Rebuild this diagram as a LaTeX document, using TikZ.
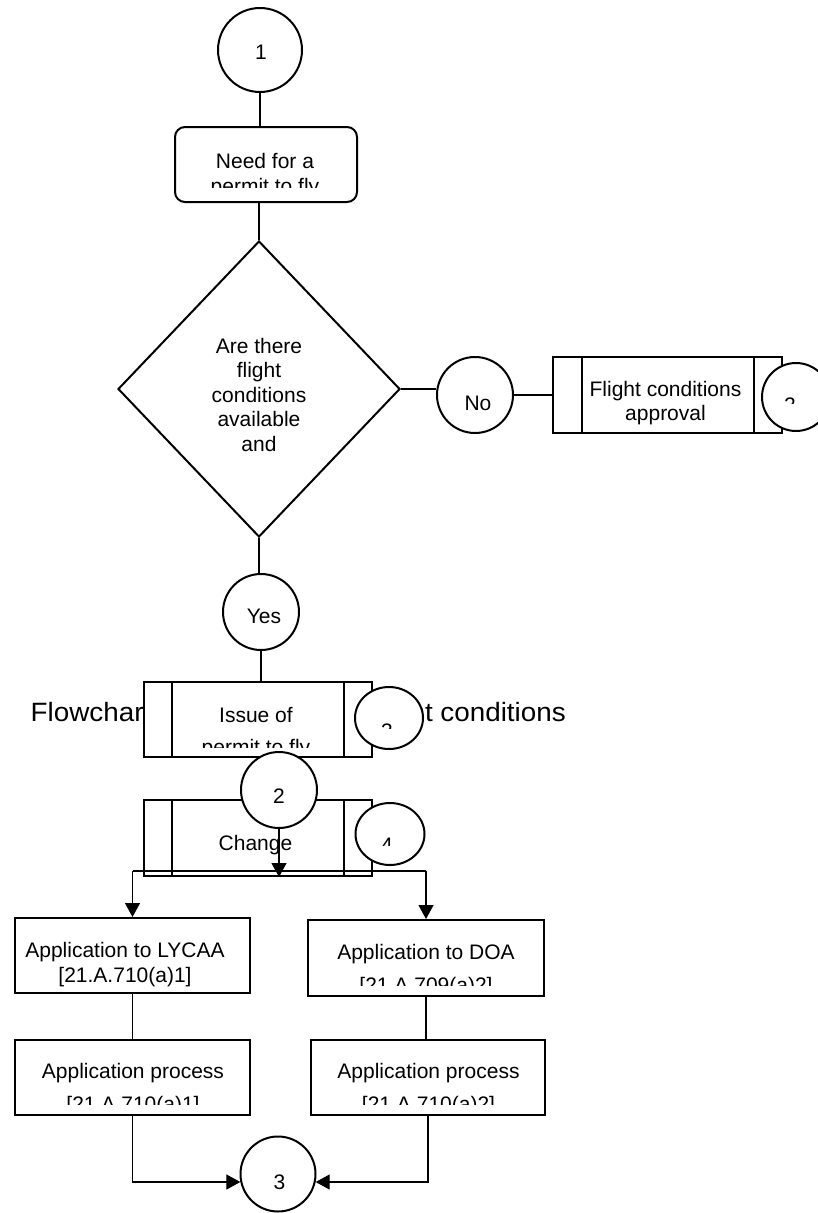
\documentclass[tikz,border=0pt]{standalone}
\usepackage{fontspec}
\setmainfont{Liberation Sans}
\newfontfamily\captionfont[FakeStretch=1.05]{Liberation Sans}
\usetikzlibrary{arrows.meta,shapes.geometric}
\begin{document}
\begin{tikzpicture}[x=1pt,y=-1pt,
  outline/.style={draw=black, line width=2pt, fill=white, inner sep=0pt},
  conn/.style={draw=black, line width=1.2pt},
  arrowconn/.style={conn, -{Triangle[width=15pt,length=14pt]}},
  lbl/.style={inner sep=0pt, anchor=base, align=center, font=\fontsize{21}{25}\selectfont},
  inner/.style={draw=black, line width=2pt}
]
\useasboundingbox (0,0) rectangle (817,1213);
\fill[white] (0,0) rectangle (817,1213);

% caption lying behind the boxes
\node[anchor=base west, inner sep=0pt, font=\captionfont\fontsize{26.5}{32}\selectfont] (title) at (30.5,721) {Flowchart – approval of the flight conditions};

% start connector
\node[outline, circle, minimum size=84pt] (c1) at (260,50) {};
\node[lbl] (c1t) at (261,59) {1};

% start event (labels are anchored at the baseline of their last line)
\node[outline, rectangle, rounded corners=10pt, minimum width=182pt, minimum height=75pt] (need) at (266,164.5) {};
\begin{scope}
  \clip (175,127) rectangle (357,187);
  \node[lbl] (needt) at (265,193) {Need for a\\permit to fly};
\end{scope}

% decision
\node[outline, diamond, minimum width=282pt, minimum height=296pt] (dec) at (259,389) {};
\node[lbl, font=\fontsize{21}{24.5}\selectfont] (dect) at (259,451) {Are there\\flight\\conditions\\available\\and};

% "No" branch
\node[outline, circle, minimum size=76pt] (no) at (475,395) {};
\node[lbl] (not) at (478,410) {No};

\node[outline, rectangle, minimum width=229pt, minimum height=76pt] (fca) at (667.5,395) {};
\draw[inner] ([xshift=30pt]fca.north west) -- ([xshift=30pt]fca.south west);
\draw[inner] ([xshift=-29pt]fca.north east) -- ([xshift=-29pt]fca.south east);
\node[lbl, font=\fontsize{21}{24}\selectfont] (fcat) at (665.5,420) {Flight conditions\\approval};

\node[outline, circle, minimum size=68pt] (c2r) at (796,397) {};
\begin{scope}
  \clip (762,363) rectangle (830,403);
  \node[lbl] (c2rt) at (790,412) {2};
\end{scope}

% "Yes" branch
\node[outline, circle, minimum size=76pt] (yes) at (261,612) {};
\node[lbl] (yest) at (264,623) {Yes};

\node[outline, rectangle, minimum width=228pt, minimum height=75pt] (iss) at (258,719.5) {};
\draw[inner] ([xshift=29pt]iss.north west) -- ([xshift=29pt]iss.south west);
\draw[inner] ([xshift=-29pt]iss.north east) -- ([xshift=-29pt]iss.south east);
\begin{scope}
  \clip (173,682) rectangle (343,747);
  \node[lbl, font=\fontsize{21}{32}\selectfont] (isst) at (256,754) {Issue of\\permit to fly};
\end{scope}

\node[outline, ellipse, minimum width=68pt, minimum height=62pt] (c3a) at (389,718) {};
\begin{scope}
  \clip (355,687) rectangle (423,728);
  \node[lbl] (c3at) at (387,738) {3};
\end{scope}

% change of the permit
\node[outline, rectangle, minimum width=228pt, minimum height=76pt] (chg) at (258,838) {};
\draw[inner] ([xshift=29pt]chg.north west) -- ([xshift=29pt]chg.south west);
\draw[inner] ([xshift=-29pt]chg.north east) -- ([xshift=-29pt]chg.south east);
\node[lbl] (chgt) at (255.5,850) {Change};

\node[outline, ellipse, minimum width=69pt, minimum height=62pt] (c4) at (390,834) {};
\begin{scope}
  \clip (355,803) rectangle (425,845);
  \node[lbl] (c4t) at (387,852) {4};
\end{scope}

\node[outline, circle, minimum size=76pt] (c2) at (279,790) {};
\node[lbl] (c2t) at (279,803) {2};

% applications
\node[outline, rectangle, minimum width=235pt, minimum height=75pt] (lyc) at (132.5,955.5) {};
\node[lbl] (lyct) at (125,982) {Application to LYCAA\\{[21.A.710(a)1]}};

\node[outline, rectangle, minimum width=236pt, minimum height=76pt] (doa) at (426,958) {};
\begin{scope}
  \clip (308,920) rectangle (544,985);
  \node[lbl, font=\fontsize{21}{33}\selectfont] (doat) at (426,992) {Application to DOA\\{[21.A.709(a)2]}};
\end{scope}

\node[outline, rectangle, minimum width=235pt, minimum height=75pt] (ap1) at (132.5,1077.5) {};
\begin{scope}
  \clip (15,1040) rectangle (250,1104);
  \node[lbl, font=\fontsize{21}{33}\selectfont] (ap1t) at (133,1111) {Application process\\{[21.A.710(a)1]}};
\end{scope}

\node[outline, rectangle, minimum width=234pt, minimum height=75pt] (ap2) at (428,1077.5) {};
\begin{scope}
  \clip (311,1040) rectangle (545,1104);
  \node[lbl, font=\fontsize{21}{33}\selectfont] (ap2t) at (428.5,1111) {Application process\\{[21.A.710(a)2]}};
\end{scope}

\node[outline, circle, minimum size=75pt] (c3b) at (278,1174) {};
\node[lbl] (c3bt) at (279.5,1189) {3};

% connectors
\coordinate (split) at (279,871);
\draw[conn] (c1.south) -- (c1.south |- need.north);
\draw[conn] (dec.north |- need.south) -- (dec.north);
\draw[conn] (dec.east) -- (dec.east -| no.west);
\draw[conn] (no.east) -- (no.east -| fca.west);
\draw[conn] (dec.south) -- (dec.south |- yes.north);
\draw[conn] (yes.south) -- (yes.south |- iss.north);
\draw[arrowconn] (c2.south) -- (c2.south |- chg.south);
\draw[conn] (lyc.north |- split) -- (doa.north |- split);
\draw[arrowconn] (lyc.north |- split) -- (lyc.north);
\draw[arrowconn] (doa.north |- split) -- (doa.north);
\draw[conn] (lyc.south) -- (lyc.south |- ap1.north);
\draw[conn] (doa.south) -- (doa.south |- ap2.north);
\draw[arrowconn] (ap1.south) |- (c3b.192);
\draw[arrowconn] (ap2.south) |- (c3b.-12);
\end{tikzpicture}
\end{document}
